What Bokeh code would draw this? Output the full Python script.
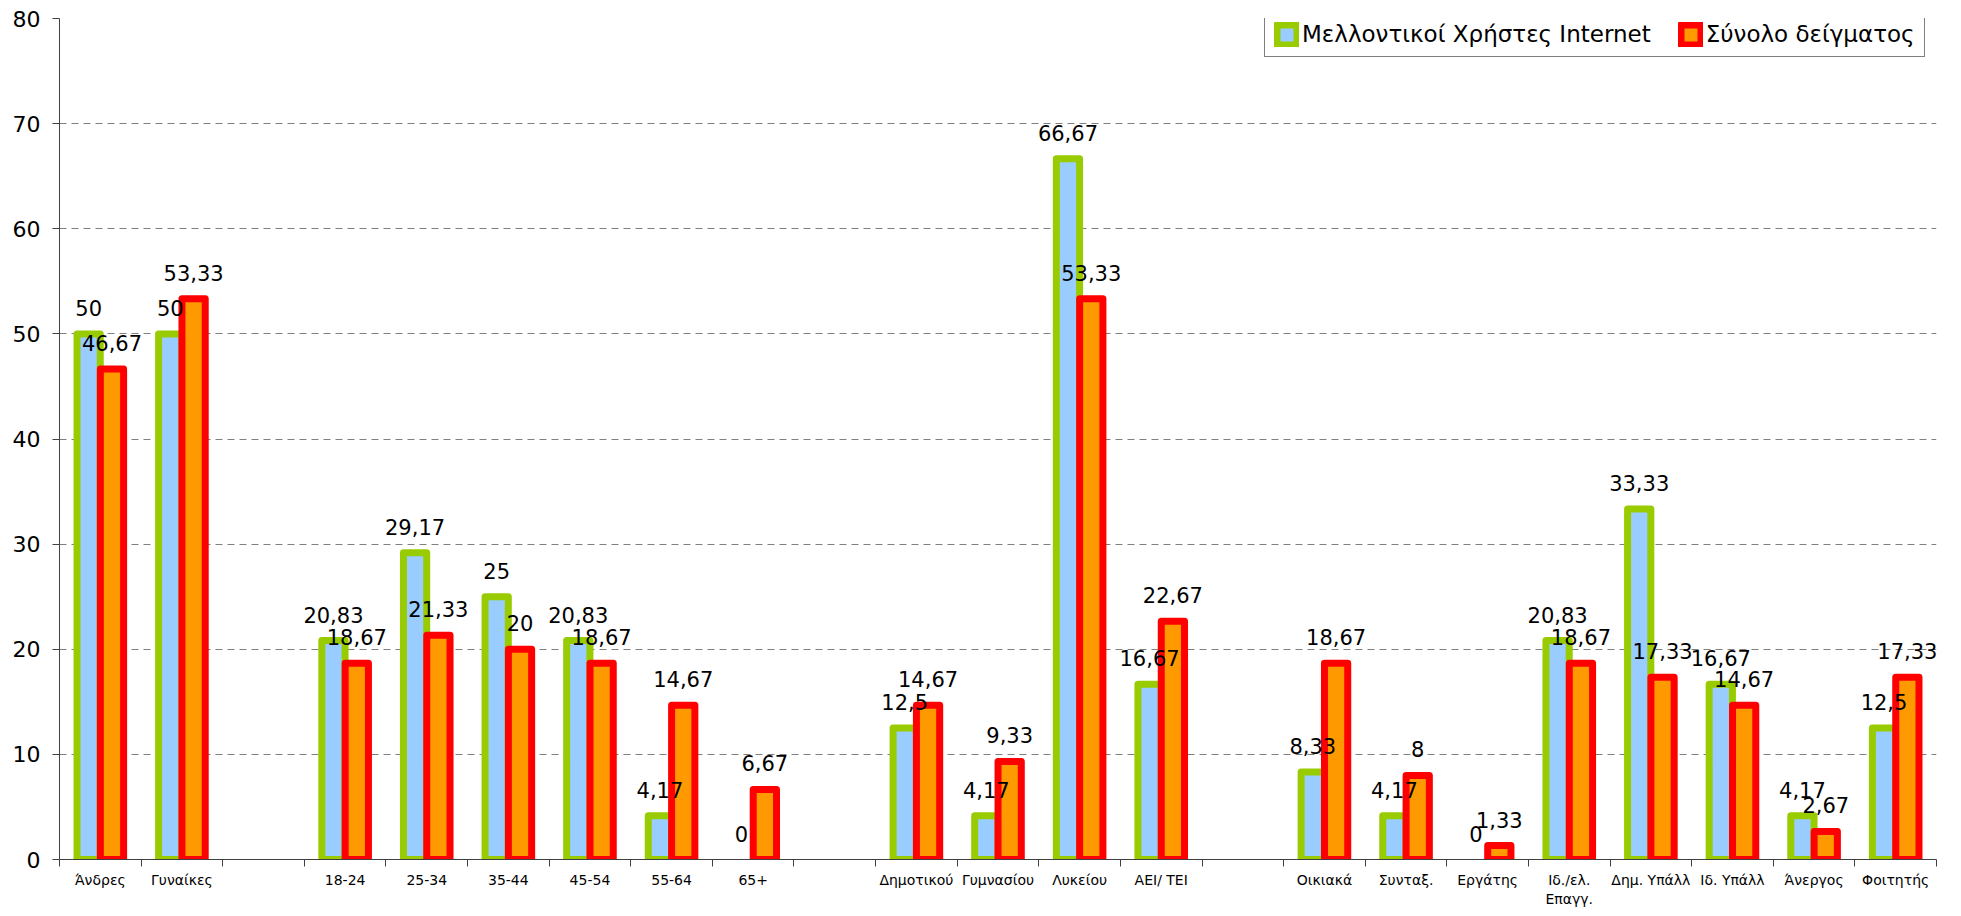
from bokeh.plotting import figure
from bokeh.models import ColumnDataSource, Range1d, FixedTicker, Legend, LegendItem
from bokeh.core.properties import value
from bokeh.embed import file_html
from bokeh.resources import INLINE

# ---- data ----
categories = ["Άνδρες", "Γυναίκες", "",
              "18-24", "25-34", "35-44", "45-54", "55-64", "65+", "",
              "Δημοτικού", "Γυμνασίου", "Λυκείου", "ΑΕΙ/ ΤΕΙ", "",
              "Οικιακά", "Συνταξ.", "Εργάτης", "Ιδ./ελ.\nΕπαγγ.", "Δημ. Υπάλλ",
              "Ιδ. Υπάλλ", "Άνεργος", "Φοιτητής"]
future_users = [50, 50,
                20.83, 29.17, 25, 20.83, 4.17, 0,
                12.5, 4.17, 66.67, 16.67,
                8.33, 4.17, 0, 20.83, 33.33, 16.67, 4.17, 12.5]
total_sample = [46.67, 53.33,
                18.67, 21.33, 20, 18.67, 14.67, 6.67,
                14.67, 9.33, 53.33, 22.67,
                18.67, 8, 1.33, 18.67, 17.33, 14.67, 2.67, 17.33]
series_names = ["Μελλοντικοί Χρήστες Internet", "Σύνολο δείγματος"]
y_ticks = [0, 10, 20, 30, 40, 50, 60, 70, 80]

FONT = "DejaVu Sans"

def fmt(v):
    s = ("%.2f" % v).rstrip("0").rstrip(".")
    return s.replace(".", ",")

centers = [i for i, c in enumerate(categories) if c != ""]
BW = 0.285
off = 0.143

p = figure(width=1961, height=916, output_backend="svg", toolbar_location=None,
           x_range=Range1d(-0.5, len(categories) - 0.5), y_range=Range1d(0, 80),
           min_border_left=59, min_border_right=25, min_border_top=18, min_border_bottom=57)
p.outline_line_color = None
p.background_fill_color = "white"
p.border_fill_color = "white"

styles = [("#99CC00", "#99CCFF", -off), ("#FF0000", "#FF9900", off)]
renderers = []
for vals, (lc, fc, dx) in zip([future_users, total_sample], styles):
    xs = [c + dx for c, v in zip(centers, vals) if v > 0]
    ys = [v for v in vals if v > 0]
    src = ColumnDataSource(dict(x=xs, top=ys))
    r = p.vbar(x="x", top="top", bottom=0, width=BW, source=src,
               fill_color=fc, line_color=lc, line_width=7, line_join="round")
    renderers.append(r)

for vals, (lc, fc, dx) in zip([future_users, total_sample], styles):
    src = ColumnDataSource(dict(x=[c + dx for c in centers], y=vals,
                                t=[fmt(v) for v in vals]))
    p.text(x="x", y="y", text="t", source=src, text_align="center",
           text_baseline="alphabetic", y_offset=-26, text_color="black",
           text_font=value(FONT), text_font_size="21px")

# axes
p.yaxis.ticker = FixedTicker(ticks=y_ticks, minor_ticks=[])
p.yaxis.major_label_text_font = FONT
p.yaxis.major_label_text_font_size = "22px"
p.yaxis.major_label_text_color = "black"
p.yaxis.major_tick_out = 7
p.yaxis.major_tick_in = 0
p.yaxis.major_label_standoff = 12
p.yaxis.axis_line_color = "#404040"
p.yaxis.major_tick_line_color = "#404040"

p.xaxis.ticker = FixedTicker(ticks=centers,
                             minor_ticks=[i - 0.5 for i in range(len(categories) + 1)])
p.xaxis.major_label_overrides = {c: categories[c] for c in centers}
p.xaxis.major_tick_out = 0
p.xaxis.major_tick_in = 0
p.xaxis.minor_tick_out = 7
p.xaxis.minor_tick_in = 0
p.xaxis.minor_tick_line_color = "#404040"
p.xaxis.axis_line_color = "#404040"
p.xaxis.major_label_text_font = FONT
p.xaxis.major_label_text_font_size = "14px"
p.xaxis.major_label_text_color = "black"
p.xaxis.major_label_standoff = 5

p.xgrid.grid_line_color = None
p.ygrid.grid_line_color = "#808080"
p.ygrid.grid_line_dash = "7 5"
p.ygrid.grid_line_width = 1

legend = Legend(items=[LegendItem(label=n, renderers=[r]) for n, r in zip(series_names, renderers)],
                orientation="horizontal", location=(1205, 802),
                label_text_font=FONT, label_text_font_size="23px",
                label_text_color="black", border_line_color="black",
                border_line_width=1, glyph_width=25, glyph_height=25,
                label_standoff=3, spacing=27, padding=9, margin=0,
                background_fill_alpha=1)
p.add_layout(legend)

open("out.html", "w").write(file_html(p, INLINE))
